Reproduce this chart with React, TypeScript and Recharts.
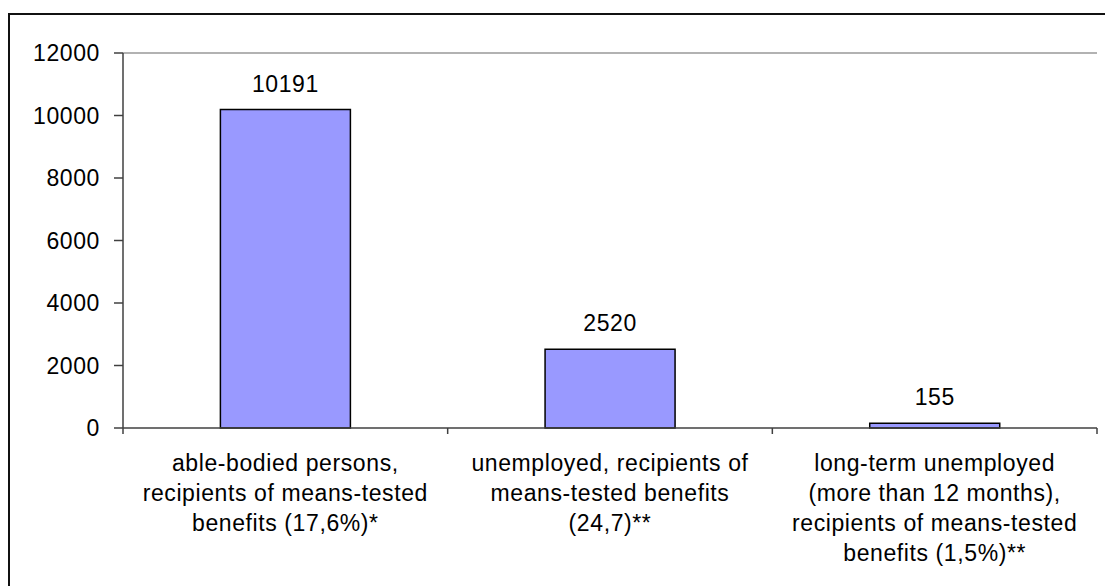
import React from 'react'
import { Bar, BarChart, LabelList, ReferenceLine, XAxis, YAxis } from 'recharts'

const categories = [
	['able-bodied persons,', 'recipients of means-tested', 'benefits (17,6%)*'],
	['unemployed, recipients of', 'means-tested benefits', '(24,7)**'],
	['long-term unemployed', '(more than 12 months),', 'recipients of means-tested', 'benefits (1,5%)**'],
]
const values = [10191, 2520, 155]
const yTicks = [0, 2000, 4000, 6000, 8000, 10000, 12000]

const data = categories.map((lines, i) => ({ name: String(i), lines, value: values[i] }))

const W = 1105
const H = 586
const LEFT = 123
const RIGHT = 8
const TOP = 53
const BOTTOM = 158
const band = (W - LEFT - RIGHT) / categories.length
const font = '"Liberation Sans", Arial, sans-serif'
const axisColor = '#404040'
const textStyle = { fontSize: 23, fontFamily: font, fill: '#000', letterSpacing: 0.6 }

const CategoryTick = (props: any) => {
	const { x, y, index } = props
	const lines: string[] = categories[index]
	return (
		<g>
			{index === 0 && <line x1={x - band / 2} x2={x - band / 2} y1={y} y2={y + 6} stroke={axisColor} strokeWidth={1.5} />}
			<line x1={x + band / 2} x2={x + band / 2} y1={y} y2={y + 6} stroke={axisColor} strokeWidth={1.5} />
			<text textAnchor='middle' style={textStyle}>
				{lines.map((l, i) => (
					<tspan key={i} x={x} y={y + 43 + i * 30}>{l}</tspan>
				))}
			</text>
		</g>
	)
}

const App = () => {
	return (
		<div style={{ position: 'absolute', left: 0, top: 0, width: W, height: H, overflow: 'hidden', background: '#fff' }}>
			<div style={{ position: 'absolute', left: 8, top: 13, width: 1200, height: 700, border: '2px solid #111' }} />
			<div style={{ position: 'absolute', left: 0, top: 0 }}>
				<BarChart width={W} height={H} data={data} margin={{ top: TOP, right: RIGHT, bottom: 0, left: 0 }} barCategoryGap='30%'>
					<XAxis dataKey='name' height={BOTTOM} tick={<CategoryTick />} tickLine={false} tickSize={0} tickMargin={0}
						axisLine={{ stroke: axisColor, strokeWidth: 1.5 }} interval={0} />
					<YAxis yAxisId='l' width={LEFT} domain={[0, 12000]} ticks={yTicks} tickSize={9} tickMargin={14}
						axisLine={{ stroke: axisColor, strokeWidth: 1.5 }} tickLine={{ stroke: axisColor, strokeWidth: 1.5 }}
						tick={textStyle} />
					<YAxis yAxisId='r' orientation='right' width={0} domain={[0, 12000]} tick={false} tickLine={false}
						axisLine={{ stroke: '#999', strokeWidth: 1.5 }} />
					<ReferenceLine yAxisId='l' y={12000} stroke='#999' strokeWidth={1.5} />
					<Bar yAxisId='l' dataKey='value' fill='#9999FF' stroke='#000' strokeWidth={1.5} isAnimationActive={false}>
						<LabelList dataKey='value' position='top' offset={18} style={textStyle} />
					</Bar>
				</BarChart>
			</div>
		</div>
	)
}

export default App
